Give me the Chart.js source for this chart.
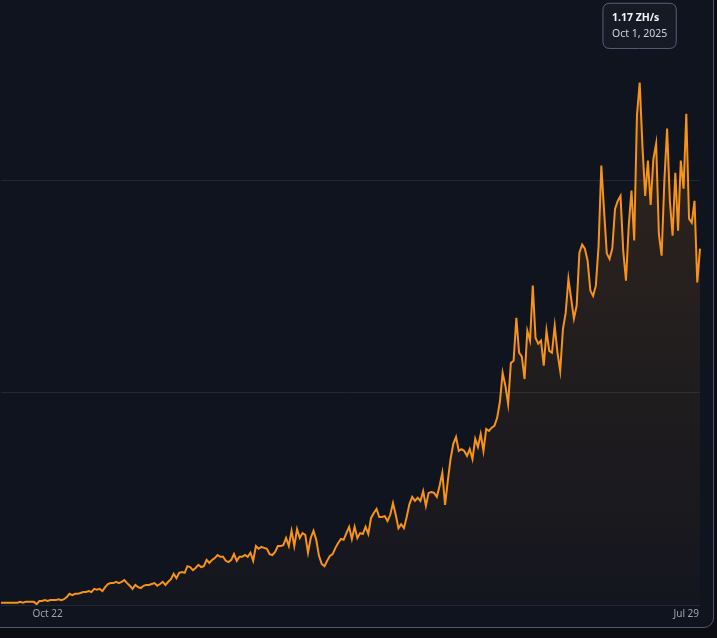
<!DOCTYPE html>
<html>
<head>
<meta charset="utf-8">
<script src="https://cdn.jsdelivr.net/npm/chart.js@4.4.1/dist/chart.umd.min.js"></script>
<style>
  html, body { margin: 0; padding: 0; background: #0b0d12; overflow: hidden; }
  .card {
    position: absolute; left: -20px; top: -20px;
    width: 734px; height: 648px; box-sizing: border-box;
    background: #10141f; border: 1px solid #4e586c; border-radius: 10px;
  }
  .wrap { position: absolute; left: 0; top: 0; width: 717px; height: 624px; }
</style>
</head>
<body>
<div class="card"></div>
<div class="wrap"><canvas id="hashrate-chart"></canvas></div>
<script>
// network hashrate, EH/s, one point per sample
const hashrate = [
    5, 5, 5, 5, 5, 5, 5, 7, 5, 7, 7, 7, 7, 2, 9, 9,
    11, 9, 11, 11, 11, 13, 11, 13, 18, 25, 22, 25, 25, 27, 29, 29,
    31, 29, 36, 34, 36, 31, 40, 47, 49, 49, 52, 49, 52, 56, 49, 43,
    36, 45, 40, 38, 43, 45, 45, 47, 49, 43, 47, 52, 45, 52, 58, 70,
    60, 72, 74, 72, 87, 85, 78, 83, 90, 85, 87, 101, 94, 101, 105, 112,
    108, 108, 99, 96, 101, 114, 99, 108, 108, 112, 108, 117, 99, 132, 126, 130,
    128, 126, 114, 112, 119, 132, 132, 134, 150, 132, 166, 132, 170, 150, 161, 157,
    117, 150, 166, 146, 110, 92, 87, 99, 110, 114, 128, 139, 148, 146, 161, 175,
    148, 175, 150, 161, 159, 175, 159, 195, 206, 215, 197, 197, 199, 188, 202, 228,
    202, 172, 181, 172, 197, 226, 242, 233, 240, 233, 255, 222, 251, 253, 251, 242,
    267, 296, 224, 278, 327, 361, 376, 345, 349, 345, 334, 349, 327, 372, 354, 383,
    345, 394, 390, 397, 401, 419, 455, 520, 491, 450, 542, 547, 643, 565, 556, 506,
    614, 592, 715, 598, 585, 592, 536, 614, 569, 565, 625, 565, 524, 618, 654, 730,
    686, 641, 670, 789, 807, 798, 771, 704, 692, 715, 804, 984, 883, 787, 775, 798,
    887, 905, 916, 793, 726, 849, 928, 816, 1096, 1170, 1028, 916, 995, 896, 999, 1033,
    831, 782, 950, 1067, 905, 827, 968, 838, 995, 932, 1100, 865, 856, 905, 722, 798
];
const categories = hashrate.map((v, i) => i);

// x axis labels and the sample they sit under
const tickLabels = ['Oct 22', 'Jul 29'];
const tickIndex = [17, 250];

// horizontal grid lines (EH/s)
const gridValues = [0, 475, 950];

// hovered sample shown in the tooltip
const activeIndex = 233;
const activeDate = 'Oct 1, 2025';

const orange = '#f7931a';

Chart.Tooltip.positioners.abovePoint = function (elements) {
    if (!elements.length) return false;
    const el = elements[0].element;
    return { x: el.x, y: el.y - 34 };
};

function fillGradient(context) {
    const area = context.chart.chartArea;
    if (!area) return 'rgba(247,147,26,0.08)';
    const g = context.chart.ctx.createLinearGradient(0, area.top, 0, area.bottom);
    g.addColorStop(0, 'rgba(247,147,26,0.16)');
    g.addColorStop(1, 'rgba(247,147,26,0.02)');
    return g;
}

const ctx = document.getElementById('hashrate-chart').getContext('2d');
const chart = new Chart(ctx, {
    type: 'line',
    data: {
        labels: categories,
        datasets: [{
            data: hashrate,
            borderColor: orange,
            borderWidth: 2,
            backgroundColor: fillGradient,
            fill: 'origin',
            tension: 0,
            pointRadius: 0,
            pointHoverRadius: 0
        }]
    },
    options: {
        responsive: true,
        maintainAspectRatio: false,
        animation: false,
        events: [],
        layout: { padding: { top: 11, right: 17, left: 0, bottom: 0 } },
        plugins: {
            legend: { display: false },
            tooltip: {
                enabled: true,
                position: 'abovePoint',
                xAlign: 'center',
                yAlign: 'bottom',
                caretSize: 0,
                caretPadding: 0,
                displayColors: false,
                backgroundColor: '#151a25',
                borderColor: '#56607a',
                borderWidth: 1,
                cornerRadius: 7,
                padding: { top: 8, bottom: 8, left: 9, right: 9 },
                titleColor: '#f1f5f9',
                bodyColor: '#cbd5e1',
                titleFont: { family: 'Noto Sans', size: 10.5, weight: 'bold' },
                bodyFont: { family: 'Noto Sans', size: 10.5 },
                titleMarginBottom: 4,
                callbacks: {
                    title: items => (items[0].parsed.y / 1000).toFixed(2) + ' ZH/s',
                    label: () => activeDate
                }
            }
        },
        scales: {
            x: {
                grid: { display: false, tickLength: 4 },
                border: { display: false },
                afterFit: scale => { scale.height = 19; },
                ticks: {
                    autoSkip: false,
                    maxRotation: 0,
                    padding: 0,
                    color: '#9aa3b2',
                    font: { family: 'Noto Sans', size: 10, lineHeight: 1 },
                    callback: (value, index) => {
                        const k = tickIndex.indexOf(index);
                        return k >= 0 ? tickLabels[k] : '';
                    }
                }
            },
            y: {
                min: 0,
                max: 1330,
                afterBuildTicks: scale => {
                    scale.ticks = gridValues.map(v => ({ value: v }));
                },
                ticks: { display: false },
                border: { display: false },
                grid: { drawTicks: false, color: '#222838' }
            }
        }
    }
});

chart.tooltip.setActiveElements([{ datasetIndex: 0, index: activeIndex }], { x: 0, y: 0 });
chart.update();
</script>
</body>
</html>
